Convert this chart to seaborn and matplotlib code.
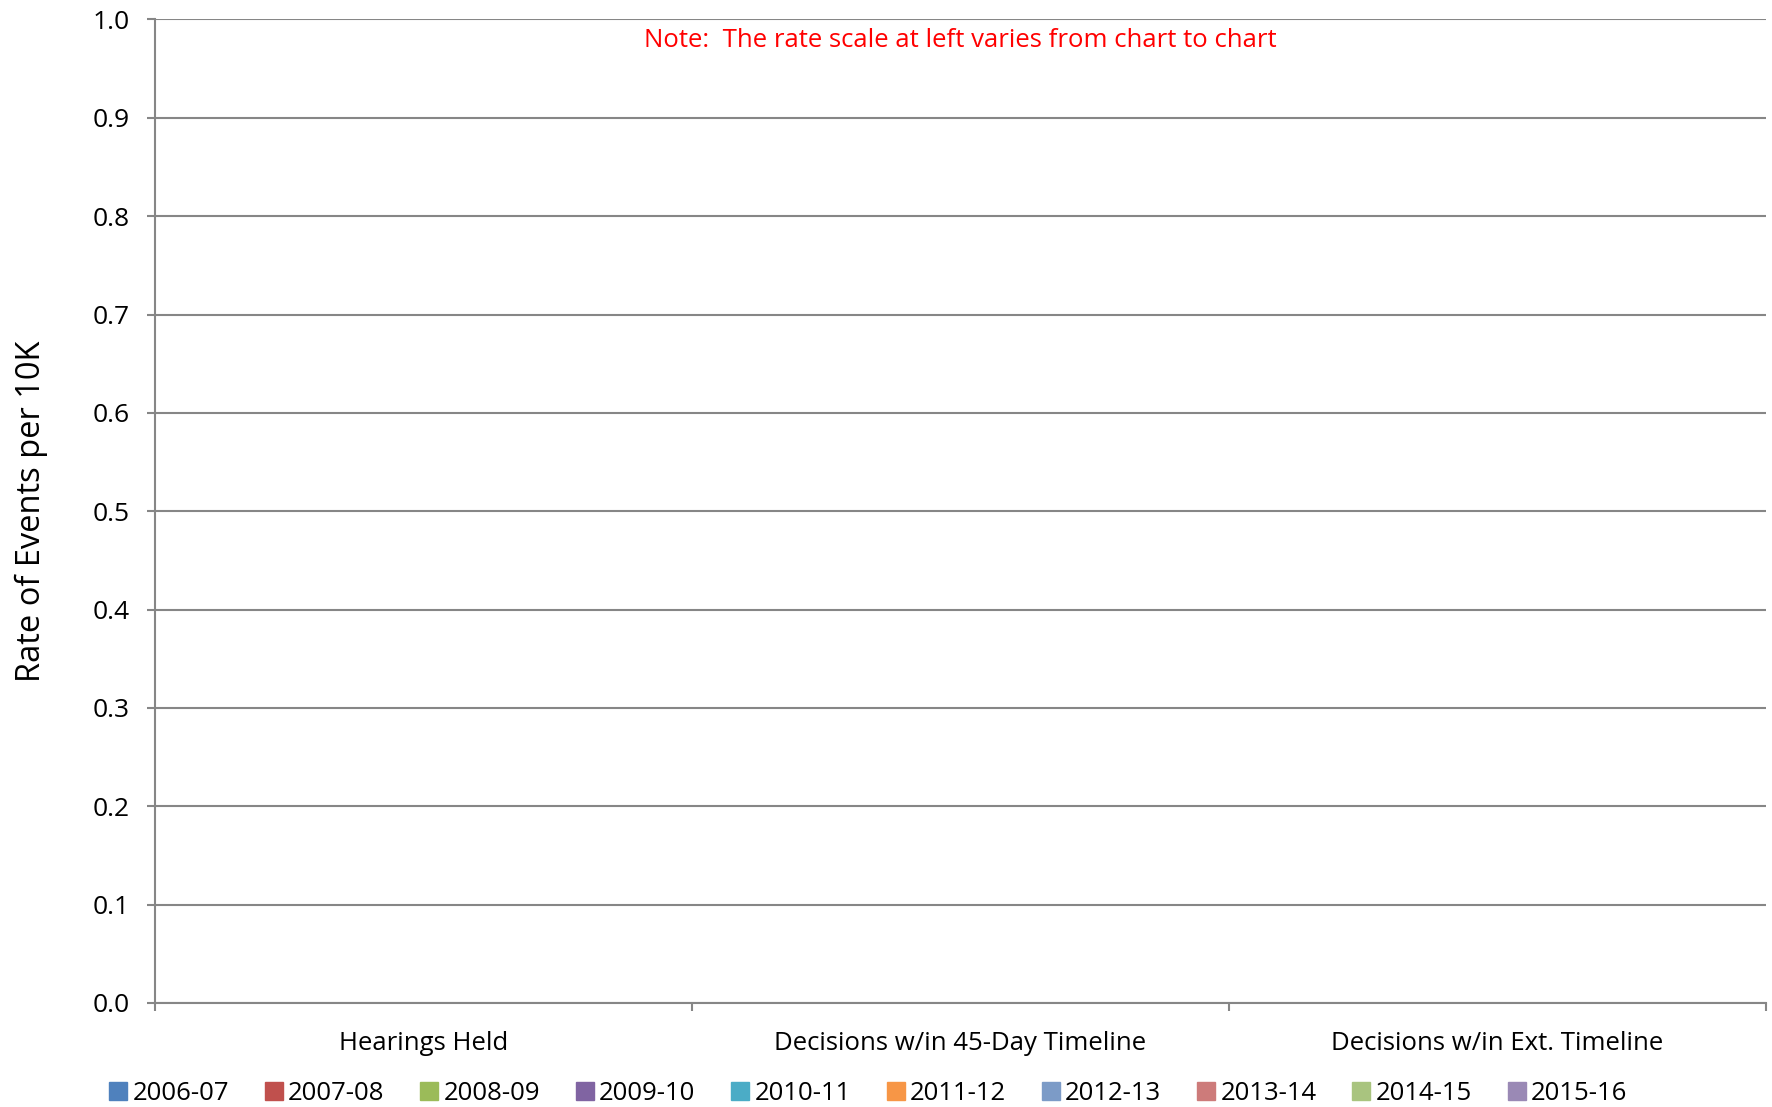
import matplotlib
matplotlib.use("Agg")
import matplotlib.pyplot as plt
import seaborn as sns
import pandas as pd
from matplotlib.patches import Patch

categories = ["Hearings Held", "Decisions w/in 45-Day Timeline", "Decisions w/in Ext. Timeline"]
years = ["2006-07", "2007-08", "2008-09", "2009-10", "2010-11",
         "2011-12", "2012-13", "2013-14", "2014-15", "2015-16"]
values = {
    "2006-07": [0, 0, 0],
    "2007-08": [0, 0, 0],
    "2008-09": [0, 0, 0],
    "2009-10": [0, 0, 0],
    "2010-11": [0, 0, 0],
    "2011-12": [0, 0, 0],
    "2012-13": [0, 0, 0],
    "2013-14": [0, 0, 0],
    "2014-15": [0, 0, 0],
    "2015-16": [0, 0, 0],
}
colors = ["#4F81BD", "#C0504D", "#9BBB59", "#8064A2", "#4BACC6",
          "#F79646", "#7C9BC7", "#CD7B7A", "#A9C47F", "#9A89B5"]
y_ticks = [0.0, 0.1, 0.2, 0.3, 0.4, 0.5, 0.6, 0.7, 0.8, 0.9, 1.0]

rows = []
for y in years:
    for c, v in zip(categories, values[y]):
        rows.append({"Category": c, "Year": y, "Rate": v})
df = pd.DataFrame(rows)

sns.set_theme(style="white")
plt.rcParams["font.family"] = ["Open Sans", "DejaVu Sans"]
plt.rcParams["text.color"] = "black"
plt.rcParams["axes.labelcolor"] = "black"
plt.rcParams["xtick.labelcolor"] = "black"
plt.rcParams["ytick.labelcolor"] = "black"

fig = plt.figure(figsize=(17.72, 11.07), dpi=100)
ax = fig.add_axes([0.0875, 0.094, 0.9091, 0.8884])

sns.barplot(data=df, x="Category", y="Rate", hue="Year", order=categories,
            hue_order=years, palette=colors, ax=ax, legend=False)

ax.set_ylim(0, 1.0)
ax.set_xlim(-0.5, 2.5)
ax.set_yticks(y_ticks)
ax.set_yticklabels([f"{t:.1f}" for t in y_ticks], fontsize=19)
ax.yaxis.grid(True, color="#868686", linewidth=1.5)
ax.set_axisbelow(True)

grid_c = "#868686"
for s in ["top", "right"]:
    ax.spines[s].set_visible(False)
for s in ["left", "bottom"]:
    ax.spines[s].set_color(grid_c)
    ax.spines[s].set_linewidth(1.5)

ax.tick_params(axis="y", which="major", length=6, width=1.5, color=grid_c,
               direction="out", pad=12, left=True, labelcolor="black")
ax.tick_params(axis="x", which="major", length=0, pad=20, labelsize=18.5,
               labelcolor="black")
ax.set_xticks([-0.5, 0.5, 1.5, 2.5], minor=True)
ax.tick_params(axis="x", which="minor", length=6, width=1.5, color=grid_c,
               direction="out", bottom=True)
ax.set_xlabel("")
ax.set_ylabel("Rate of Events per 10K", fontsize=23.5, labelpad=32, color="black")

ax.text(0.5, 0.991, "Note:  The rate scale at left varies from chart to chart",
        transform=ax.transAxes, color="#FF0000", fontsize=18.5,
        ha="center", va="top")

handles = [Patch(facecolor=c, edgecolor=c) for c in colors]
fig.legend(handles, years, loc="lower center", bbox_to_anchor=(0.49, -0.02),
           ncol=10, frameon=False, fontsize=18.5, handlelength=0.7,
           handleheight=0.7, handletextpad=0.2, columnspacing=1.4,
           labelcolor="black")

fig.savefig("out.png", dpi=100)
